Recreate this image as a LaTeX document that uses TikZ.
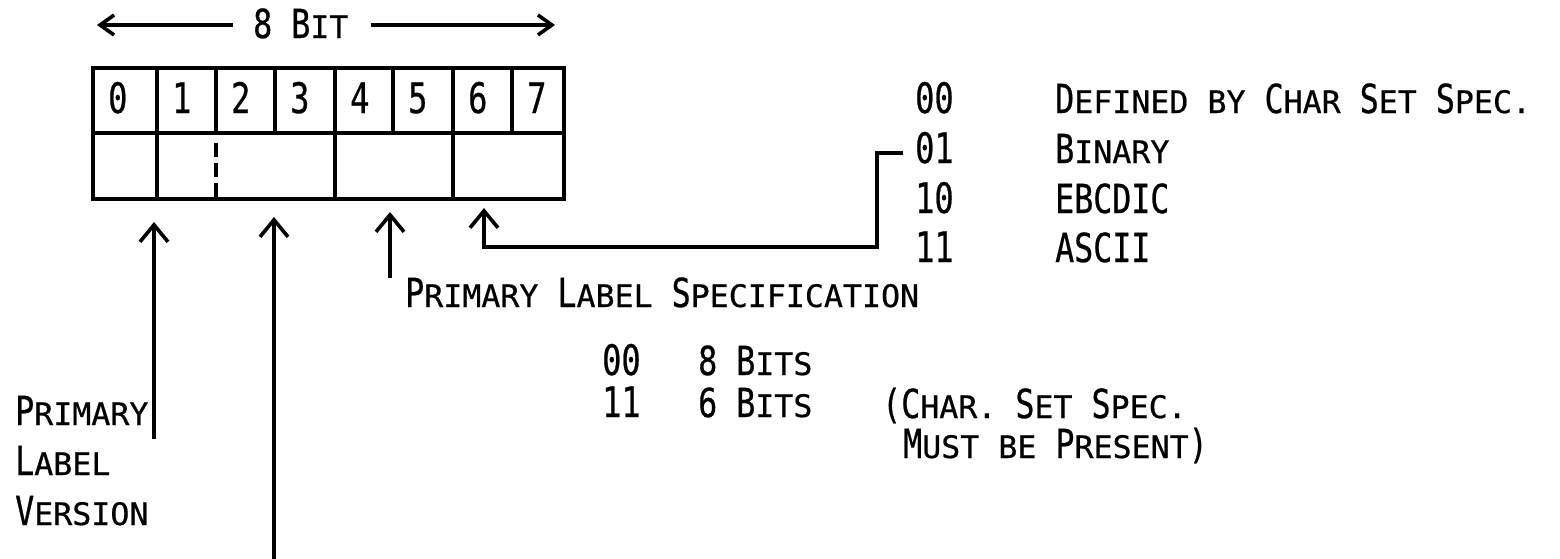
\documentclass[tikz,border=0pt]{standalone}
\usepackage{fontspec}
\setmainfont{DejaVu Sans Mono}[FakeStretch=0.79,FakeBold=0.6]
\newfontfamily\scfam{DejaVu Sans Mono}[FakeStretch=1.02,FakeBold=0.6]
\newfontfamily\digfam{DejaVu Sans Mono}[FakeStretch=0.76,FakeBold=0.6]
\usetikzlibrary{arrows.meta}
\newcommand\scx[1]{{\scfam\fontsize{31}{31}\selectfont #1}}
\tikzset{
  txt/.style={inner sep=0pt, anchor=base west, font=\fontsize{40}{40}\selectfont},
  dig/.style={inner sep=0pt, anchor=base west, font=\digfam\fontsize{42}{42}\selectfont},
  ln/.style={line width=3.6pt, line join=miter},
  up/.style={ln, -{Straight Barb[length=17pt,width=28pt]}},
  side/.style={ln, -{Straight Barb[length=14pt,width=20pt]}},
}
\begin{document}
\begin{tikzpicture}[x=1pt,y=-1pt]
\useasboundingbox (0,0) rectangle (1560,558);
% header
\node[txt] (hdr) at (253,38) {8 B\scx{IT}};
\coordinate (hl) at (97,25);
\coordinate (hr) at (555,25);
\draw[side] (hdr.west|-hl) ++(-20,0) coordinate (hls) -- (hl);
\draw[side] (hdr.east|-hr) ++(22,0) coordinate (hrs) -- (hr);
% grid
\draw[ln] (93,68) rectangle (564,199);
\draw[ln] (93,133) -- (564,133);
\foreach \x in {157,216,275,335,393,453,512} \draw[ln] (\x,68) -- (\x,133);
\foreach \x in {157,335,453} \draw[ln] (\x,133) -- (\x,199);
\draw[ln, dash pattern=on 14pt off 6pt] (216,143) -- (216,199);
% bit numbers
\foreach \x/\d in {93/0,157/1,216/2,275/3,335/4,393/5,453/6,512/7}
  \node[dig] (bit\d) at (\x+15,113) {\d};
% arrows
\node[txt] (pv1) at (15,425) {P\scx{RIMARY}};
\node[txt] (pv2) at (15,475) {L\scx{ABEL}};
\node[txt] (pv3) at (15,525) {V\scx{ERSION}};
\coordinate (t1) at (154,222);
\coordinate (s1) at (154,439);
\draw[up] (s1) -- (t1);
\coordinate (t2) at (274,217);
\coordinate (s2) at (274,560);
\draw[up] (s2) -- (t2);
\coordinate (t3) at (390,212);
\coordinate (s3) at (390,278);
\draw[up] (s3) -- (t3);
% primary label specification
\node[txt] (pls) at (405,307) {P\scx{RIMARY} L\scx{ABEL} S\scx{PECIFICATION}};
\node[dig] (c00) at (602,375) {00};
\node[txt] (v8) at (698,375) {8 B\scx{ITS}};
\node[dig] (c11) at (602,417) {11};
\node[txt] (v6) at (698,417) {6 B\scx{ITS}};
\node[txt] (n1) at (882,418) {(C\scx{HAR.} S\scx{ET} S\scx{PEC.}};
\node[txt] (n2) at (903,458) {M\scx{UST BE} P\scx{RESENT})};
% character set list
\node[dig] (r00) at (915,113) {00};
\node[txt] (d00) at (1055,113) {D\scx{EFINED BY} C\scx{HAR} S\scx{ET} S\scx{PEC.}};
\node[dig] (r01) at (915,163) {01};
\node[txt] (d01) at (1055,163) {B\scx{INARY}};
\node[dig] (r10) at (915,213) {10};
\node[txt] (d10) at (1055,213) {EBCDIC};
\node[dig] (r11) at (915,262) {11};
\node[txt] (d11) at (1055,262) {ASCII};
\coordinate (t4) at (484,208);
\draw[up] ([xshift=-12pt]r01.west|-0,153) -- (877,153) -- (877,247) -- (484,247) -- (t4);
\end{tikzpicture}
\end{document}
